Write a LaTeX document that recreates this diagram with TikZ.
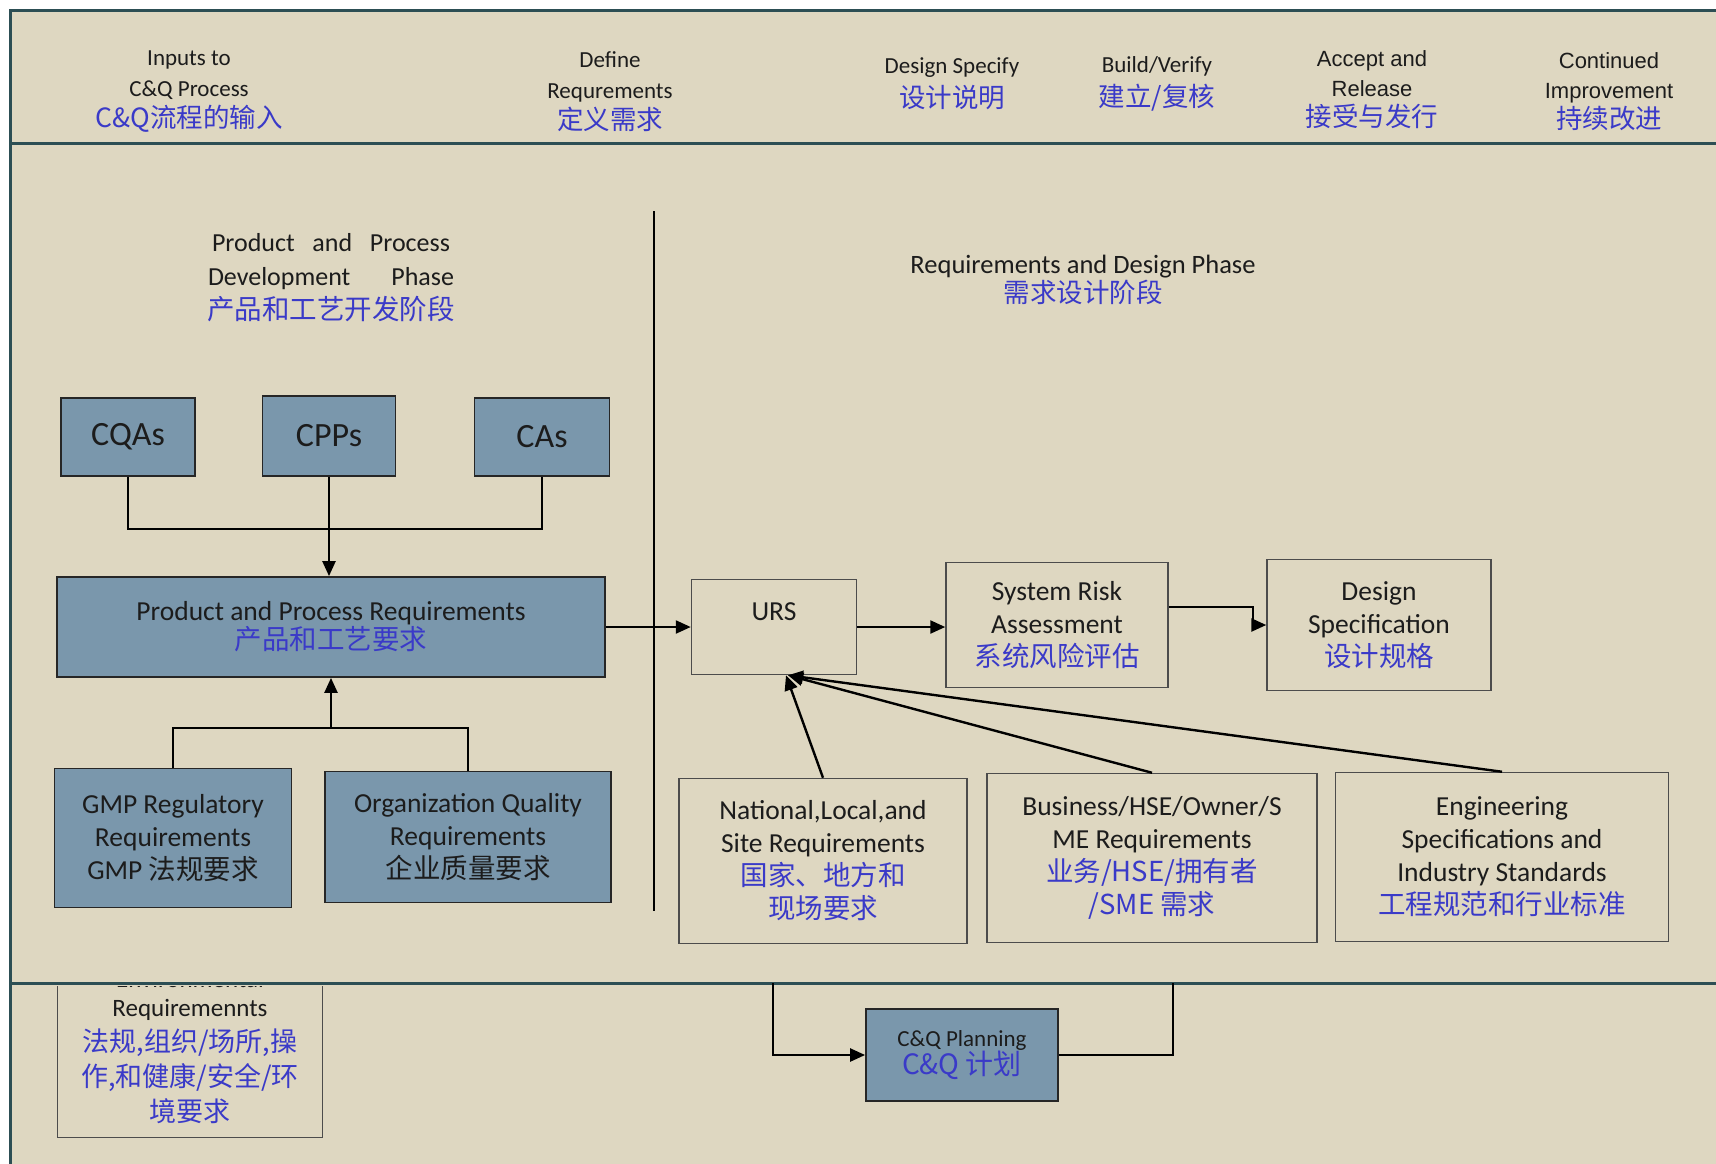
\documentclass[tikz,border=0pt]{standalone}
\usepackage{fontspec}
\setmainfont{Carlito}
\newfontfamily\cjk{Noto Sans CJK SC}
\newfontfamily\arialfont{Liberation Sans}
\usetikzlibrary{arrows.meta}
\definecolor{bgbeige}{RGB}{222,215,193}
\definecolor{framedark}{RGB}{44,78,84}
\definecolor{boxblue}{RGB}{122,151,172}
\definecolor{zhblue}{RGB}{58,58,200}
\definecolor{txtdark}{RGB}{28,28,28}
\newcommand{\zh}[1]{{\cjk\color{zhblue}#1}}
\newcommand{\zhbig}[1]{{\cjk\color{zhblue}\fontsize{26.5}{32}\selectfont#1}}

\begin{document}
\begin{tikzpicture}[
  x=1pt, y=-1pt,
  >={Triangle[length=15pt, width=13pt]},
  every node/.style={font=\fontsize{27.5}{33}\selectfont, text=txtdark, align=center},
  header/.style={font=\fontsize{23}{31}\selectfont},
  bluebox/.style={rectangle, fill=boxblue, draw=black!85, line width=1.8pt, inner sep=4pt},
  plainbox/.style={rectangle, draw=black!70, line width=1.5pt, inner sep=4pt},
  conn/.style={line width=2.4pt, draw=black},
  frameline/.style={line width=3pt, draw=framedark},
]
\useasboundingbox (0,0) rectangle (1716,1163);
\clip (0,0) rectangle (1716,1163);

% ---- background and frame ----
\fill[bgbeige] (10,10) rectangle (1730,1180);

\begin{scope}
  \clip (0,986) rectangle (1716,1163);
  \node[plainbox, anchor=south, minimum width=265pt, inner ysep=14pt, font=\fontsize{25}{35}\selectfont] (env) at (190,1138)
    {Environmental\\[-6pt]Requiremennts\\{\cjk\color{zhblue}\fontsize{27}{35}\selectfont 法规,组织/场所,操}\\{\cjk\color{zhblue}\fontsize{27}{35}\selectfont 作,和健康/安全/环}\\{\cjk\color{zhblue}\fontsize{27}{35}\selectfont 境要求}};
\end{scope}

\draw[frameline] (1730,10) -- (10,10) -- (10,1180);
\draw[frameline] (10,143) -- (1730,143);
\draw[frameline] (10,983) -- (1730,983);
\draw[line width=2pt] (654,211) -- (654,911);

% ---- header ----
\node[header] (hInputs) at (189,92) {Inputs to\\C\&Q Process\\\zhbig{C\&Q流程的输入}};
\node[header] (hDefine) at (610,92) {Define\\Requrements\\\zhbig{定义需求}};
\node[header] (hDesign) at (952,84) {Design Specify\\[3pt]\zhbig{设计说明}};
\node[header] (hBuild)  at (1157,84) {Build/Verify\\[3pt]\zhbig{建立/复核}};
\node[header, font=\fontsize{22}{30}\selectfont\arialfont] (hAccept) at (1372,90) {Accept and\\Release\\\zhbig{接受与发行}};
\node[header, font=\fontsize{22}{30}\selectfont\arialfont] (hCont)   at (1609,92) {Continued\\Improvement\\\zhbig{持续改进}};

% ---- phase titles ----
\node[font=\fontsize{26}{34}\selectfont] (pDev) at (331,278)
  {\makebox[238pt][s]{Product and Process}\\\makebox[246pt][s]{Development Phase}\\{\cjk\color{zhblue}\fontsize{27.5}{34}\selectfont 产品和工艺开发阶段}};
\node[font=\fontsize{26.5}{29}\selectfont] (pReq) at (1083,280) {Requirements and Design Phase\\\zh{需求设计阶段}};

% ---- product and process side ----
\node[bluebox, minimum width=134pt, minimum height=78pt, font=\fontsize{34}{40}\selectfont] (cqa) at (128,437) {CQAs};
\node[bluebox, minimum width=133pt, minimum height=80pt, font=\fontsize{34}{40}\selectfont] (cpp) at (329,436) {CPPs};
\node[bluebox, minimum width=135pt, minimum height=78pt, font=\fontsize{34}{40}\selectfont] (cas) at (542,437) {CAs};
\node[bluebox, minimum width=548pt, minimum height=100pt, font=\fontsize{27.5}{29}\selectfont] (ppr) at (331,627) {Product and Process Requirements\\\zh{产品和工艺要求}};
\node[bluebox, minimum width=237pt, minimum height=139pt] (gmp) at (173,838) {GMP Regulatory\\Requirements\\GMP {\cjk 法规要求}};
\node[bluebox, minimum width=286pt, minimum height=131pt] (oqr) at (468,837) {Organization Quality\\Requirements\\{\cjk 企业质量要求}};

% ---- requirements and design side ----
\node[plainbox, minimum width=165pt, minimum height=95pt, text depth=30pt] (urs) at (774,627) {URS};
\node[plainbox, minimum width=222pt, minimum height=125pt] (sra) at (1057,625) {System Risk\\Assessment\\\zh{系统风险评估}};
\node[plainbox, minimum width=224pt, minimum height=131pt] (ds)  at (1379,625) {Design\\Specification\\\zh{设计规格}};
\node[plainbox, minimum width=288pt, minimum height=165pt] (nls)  at (823,861)  {National,Local,and\\Site Requirements\\\zh{国家、地方和}\\\zh{现场要求}};
\node[plainbox, minimum width=330pt, minimum height=169pt] (bhs)  at (1152,858) {Business/HSE/Owner/S\\ME Requirements\\\zh{业务/HSE/拥有者}\\\zh{/SME 需求}};
\node[plainbox, minimum width=333pt, minimum height=169pt] (esis) at (1502,857) {Engineering\\Specifications and\\Industry Standards\\\zh{工程规范和行业标准}};

% ---- planning ----
\node[bluebox, minimum width=192pt, minimum height=92pt, font=\fontsize{23}{28}\selectfont] (cqp) at (962,1055)
  {C\&Q Planning\\{\cjk\color{zhblue}\fontsize{28}{28}\selectfont C\&Q 计划}};

% ---- connectors ----
\coordinate (jTop) at (329,529);
\coordinate (jBot) at (331,728);
\coordinate (dsBend) at (1253,607);
\coordinate (qIn) at (773,983);
\coordinate (qOut) at (1173,983);

\draw[conn] (cqa.south) |- (jTop) -| (cas.south);
\draw[conn,->] (cpp.south) -- (cpp.south |- ppr.north);
\draw[conn] (gmp.north) |- (jBot) -| (oqr.north);
\draw[conn,->] (jBot) -- (ppr.south);
\draw[conn,->] (ppr.east) -- (urs.west);
\draw[conn,->] (urs.east) -- (urs.east -| sra.west);
\draw[conn,->] ([yshift=18pt]sra.east) -- (dsBend) |- (ds.west);
\draw[conn,->] (nls.north) -- ([xshift=12pt]urs.south);
\draw[conn,->] (bhs.north) -- ([xshift=14pt]urs.south);
\draw[conn,->] (esis.north) -- ([xshift=14pt]urs.south);
\draw[conn,->] (qIn) |- (cqp.west);
\draw[conn] (cqp.east) -| (qOut);

\end{tikzpicture}
\end{document}
